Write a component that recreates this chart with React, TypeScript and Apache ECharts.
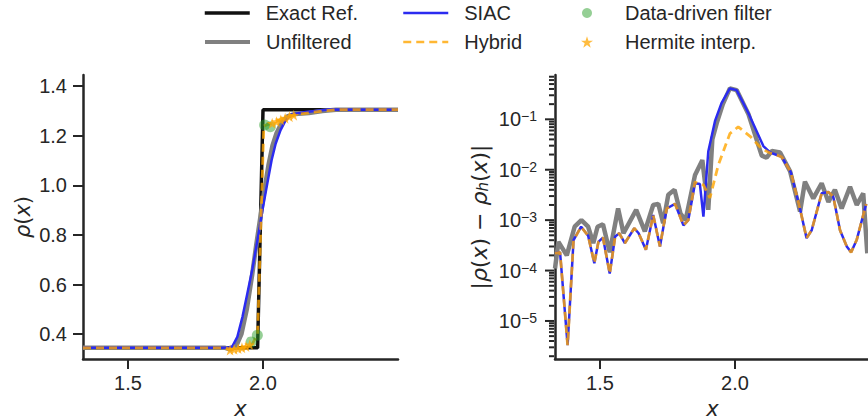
import React, { useEffect, useRef } from 'react';
import * as echarts from 'echarts';

// ---------- left panel: density rho(x) ----------
const exactX = [1.3333, 1.98, 2.0, 2.5];
const exactRho = [0.345, 0.345, 1.305, 1.305];

const unfX = [1.3333, 1.86, 1.88, 1.9, 1.92, 1.94, 1.96, 1.975, 1.99, 2.005, 2.02, 2.035, 2.05, 2.07, 2.09, 2.12, 2.17, 2.22, 2.27, 2.5];
const unfRho = [0.345, 0.345, 0.338, 0.35, 0.4, 0.5, 0.64, 0.76, 0.87, 0.98, 1.08, 1.16, 1.21, 1.255, 1.278, 1.288, 1.292, 1.3, 1.305, 1.305];

const siacX = [1.3333, 1.87, 1.887, 1.905, 1.924, 1.942, 1.961, 1.975, 1.988, 2.0, 2.016, 2.032, 2.047, 2.065, 2.084, 2.108, 2.158, 2.244, 2.5];
const siacRho = [0.345, 0.345, 0.352, 0.389, 0.47, 0.564, 0.665, 0.752, 0.833, 0.913, 1.008, 1.102, 1.169, 1.223, 1.263, 1.287, 1.296, 1.306, 1.305];

const hybX = [1.3333, 1.86, 1.88, 1.9, 1.93, 1.96, 1.98, 2.003, 2.03, 2.06, 2.09, 2.12, 2.17, 2.22, 2.27, 2.5];
const hybRho = [0.345, 0.345, 0.339, 0.341, 0.347, 0.36, 0.4, 1.24, 1.25, 1.263, 1.277, 1.285, 1.292, 1.3, 1.305, 1.305];

const filterX = [1.956, 1.979, 2.006, 2.027];
const filterRho = [0.369, 0.396, 1.243, 1.236];

const hermX = [1.878, 1.893, 1.908, 1.922, 1.937, 1.951, 2.034, 2.05, 2.066, 2.082, 2.098, 2.114];
const hermRho = [0.336, 0.339, 0.342, 0.345, 0.35, 0.357, 1.25, 1.257, 1.264, 1.271, 1.277, 1.283];

// ---------- right panel: pointwise error ----------
const errUnfX = [1.3333, 1.346, 1.377, 1.406, 1.431, 1.456, 1.475, 1.491, 1.511, 1.536, 1.567, 1.587, 1.634, 1.666, 1.697, 1.716, 1.734, 1.753, 1.776, 1.798, 1.817, 1.852, 1.879, 1.901, 1.916, 1.932, 1.955, 1.981, 2.006, 2.05, 2.099, 2.117, 2.136, 2.167, 2.204, 2.241, 2.259, 2.29, 2.321, 2.346, 2.37, 2.395, 2.426, 2.451, 2.475, 2.49];
const errUnf = [1.1e-4, 3.7e-4, 2.0e-4, 7.4e-4, 1.0e-3, 7.4e-4, 3.5e-4, 7.4e-4, 8.3e-4, 2.3e-4, 1.7e-3, 5.5e-4, 1.6e-3, 6.0e-4, 2.0e-3, 2.1e-3, 8.7e-4, 3.2e-3, 4.0e-3, 1.35e-3, 1.0e-3, 7.9e-3, 1.55e-2, 1.6e-3, 4.0e-2, 8.3e-2, 0.2, 0.41, 0.38, 0.126, 1.9e-2, 1.74e-2, 2.35e-2, 2.2e-2, 9.3e-3, 1.48e-3, 5.8e-3, 2.7e-3, 5.4e-3, 2.3e-3, 4.0e-3, 1.7e-3, 4.6e-3, 2.0e-3, 3.4e-3, 2.2e-4];

const errSiacX = [1.3333, 1.352, 1.38, 1.402, 1.43, 1.456, 1.479, 1.494, 1.511, 1.536, 1.556, 1.571, 1.592, 1.627, 1.643, 1.67, 1.697, 1.722, 1.747, 1.778, 1.809, 1.827, 1.852, 1.87, 1.883, 1.901, 1.926, 1.95, 1.981, 2.006, 2.049, 2.105, 2.13, 2.173, 2.207, 2.241, 2.265, 2.284, 2.321, 2.346, 2.364, 2.389, 2.414, 2.43, 2.451, 2.486];
const errSiac = [2.2e-4, 2.3e-4, 3.3e-6, 4.0e-4, 7.4e-4, 4.9e-4, 1.4e-4, 3.7e-4, 4.5e-4, 8.7e-5, 4.7e-4, 5.5e-4, 3.5e-4, 6.9e-4, 5.5e-4, 2.6e-4, 1.26e-3, 3.0e-4, 1.7e-3, 2.1e-3, 7.9e-4, 1.0e-3, 5.4e-3, 5.2e-3, 1.17e-3, 2.3e-2, 9.3e-2, 0.21, 0.41, 0.38, 0.135, 2.95e-2, 2.2e-2, 1.8e-2, 8.9e-3, 1.66e-3, 4.4e-4, 6.3e-4, 3.4e-3, 3.6e-3, 2.9e-3, 6.3e-4, 3.0e-4, 2.3e-4, 4.1e-4, 2.1e-3];

const errHybX = [1.3333, 1.352, 1.38, 1.402, 1.43, 1.456, 1.479, 1.494, 1.511, 1.536, 1.556, 1.571, 1.592, 1.627, 1.643, 1.67, 1.697, 1.722, 1.747, 1.778, 1.809, 1.827, 1.852, 1.87, 1.883, 1.907, 1.938, 1.981, 2.012, 2.056, 2.099, 2.13, 2.173, 2.207, 2.241, 2.265, 2.284, 2.321, 2.346, 2.364, 2.389, 2.414, 2.43, 2.451, 2.486];
const errHyb = [2.2e-4, 2.3e-4, 3.3e-6, 4.0e-4, 7.4e-4, 4.9e-4, 1.4e-4, 3.7e-4, 4.5e-4, 8.7e-5, 4.7e-4, 5.5e-4, 3.5e-4, 6.9e-4, 5.5e-4, 2.6e-4, 1.26e-3, 3.0e-4, 1.7e-3, 2.1e-3, 7.9e-4, 1.0e-3, 5.7e-3, 5.2e-3, 5.0e-3, 2.75e-3, 1.23e-2, 5.2e-2, 7.1e-2, 4.6e-2, 2.6e-2, 2.15e-2, 1.8e-2, 8.9e-3, 1.66e-3, 4.4e-4, 6.3e-4, 3.4e-3, 3.6e-3, 2.9e-3, 6.3e-4, 3.0e-4, 2.3e-4, 4.1e-4, 2.1e-3];

// ---------- axes ----------
const xMin = 1.3333;
const xMax = 2.5;
const xTicks = [1.5, 2.0];
const rhoMin = 0.3;
const rhoMax = 1.445;
const rhoTicks = [0.4, 0.6, 0.8, 1.0, 1.2, 1.4];
const errMin = 1.76e-6;
const errMax = 0.757;
const errDecades = [1e-5, 1e-4, 1e-3, 1e-2, 1e-1];

const FONT = "'Liberation Sans', Arial, sans-serif";
const MATH = "'DejaVu Sans', sans-serif";
const INK = '#262626';
const STAR = 'path://M50,0 L61.8,35.1 L98.9,35.1 L68.9,56.7 L80.3,91.9 L50,70.2 L19.7,91.9 L31.1,56.7 L1.1,35.1 L38.2,35.1 Z';

const zip = (xs: number[], ys: number[]) => xs.map((x, i) => [x, ys[i]]);

function buildTickData() {
  const out: number[][] = [];
  errDecades.forEach((d) => out.push([xMin, d, 10]));
  for (let k = -6; k <= -1; k++) {
    for (let m = 2; m <= 9; m++) {
      const v = m * Math.pow(10, k);
      if (v >= errMin && v <= errMax) out.push([xMin, v, 6]);
    }
  }
  return out;
}

export default function App() {
  const ref = useRef<HTMLDivElement>(null);
  useEffect(() => {
    if (!ref.current) return;
    const chart = echarts.init(ref.current, undefined, { renderer: 'svg' });
    const axisLine = { show: true, onZero: false, lineStyle: { color: INK, width: 2.5 } };
    const tick = { show: true, length: 10, lineStyle: { color: INK, width: 2 } };
    const lbl = { color: INK, fontSize: 20, fontFamily: FONT };
    const mathRich = (fs: number) => ({
      n: { fontFamily: MATH, fontSize: fs, color: INK },
      i: { fontFamily: MATH, fontSize: fs, fontStyle: 'italic', color: INK },
      s: { fontFamily: MATH, fontSize: Math.round(fs * 0.7), fontStyle: 'italic', color: INK, verticalAlign: 'bottom', lineHeight: Math.round(fs * 0.7) },
    });
    const xAxisBase = (gi: number) => ({
      gridIndex: gi,
      type: 'value',
      min: xMin,
      max: xMax,
      axisLine,
      axisTick: { ...tick, customValues: xTicks },
      axisLabel: { ...lbl, margin: 14, customValues: xTicks, formatter: (v: number) => v.toFixed(1) },
      splitLine: { show: false },
      name: 'x',
      nameLocation: 'middle',
      nameGap: 39,
      nameTextStyle: { fontFamily: MATH, fontStyle: 'italic', fontSize: 21, color: INK },
    });
    const lineSeries = (name: string, xi: number, data: number[][], ls: any, z: number) => ({
      name,
      type: 'line',
      xAxisIndex: xi,
      yAxisIndex: xi,
      data,
      symbol: 'none',
      showSymbol: false,
      lineStyle: ls,
      itemStyle: { color: ls.color, opacity: ls.opacity ?? 1 },
      z,
    });
    const exactLS = { color: '#111111', width: 3.5 };
    const unfLS = { color: '#808080', width: 4.5 };
    const siacLS = { color: '#2b2bf0', width: 2.5 };
    const hybLS = { color: '#ffa500', width: 2.8, type: [8, 5], opacity: 0.8 };
    const legendText = (pad: number) => ({ color: INK, fontSize: 20, fontFamily: FONT, padding: [0, 0, 0, pad] });
    const lineLegend = (name: string, left: number, top: number, ls: any) => ({
      data: [name],
      left,
      top,
      padding: 0,
      itemWidth: 45,
      itemHeight: 2,
      itemStyle: { opacity: 0 },
      lineStyle: { width: ls.width, type: ls.type ?? 'solid', color: ls.color, opacity: ls.opacity ?? 1 },
      textStyle: legendText(11),
    });
    const dotLegend = (name: string, left: number, top: number, size: number, pad: number) => ({
      data: [name],
      left,
      top,
      padding: 0,
      itemWidth: size,
      itemHeight: size,
      textStyle: legendText(pad),
    });

    chart.setOption({
      animation: false,
      backgroundColor: '#ffffff',
      grid: [
        { left: 83, top: 75, width: 315, height: 284, outerBoundsMode: 'none', containLabel: false },
        { left: 555, top: 75, width: 315, height: 284, outerBoundsMode: 'none', containLabel: false },
      ],
      legend: [
        lineLegend('Exact Ref.', 203, 3, exactLS),
        lineLegend('Unfiltered', 203, 32, { ...unfLS, width: 4 }),
        lineLegend('SIAC', 402, 3, siacLS),
        lineLegend('Hybrid', 402, 32, { ...hybLS, width: 2.5 }),
        dotLegend('Data-driven filter', 582, 3, 10, 28),
        dotLegend('Hermite interp.', 581, 32, 12, 27),
      ],
      xAxis: [xAxisBase(0), xAxisBase(1)],
      yAxis: [
        {
          gridIndex: 0,
          type: 'value',
          min: rhoMin,
          max: rhoMax,
          axisLine,
          axisTick: { ...tick, customValues: rhoTicks },
          axisLabel: { ...lbl, margin: 16, customValues: rhoTicks, formatter: (v: number) => v.toFixed(1) },
          splitLine: { show: false },
          name: '{i|ρ}{n|(}{i|x}{n|)}',
          nameLocation: 'middle',
          nameGap: 50,
          nameTextStyle: { rich: mathRich(21), fontFamily: MATH, fontSize: 21, color: INK },
        },
        {
          gridIndex: 1,
          type: 'log',
          logBase: 10,
          min: errMin,
          max: errMax,
          axisLine,
          axisTick: { show: false },
          minorTick: { show: false },
          splitLine: { show: false },
          axisLabel: {
            ...lbl,
            margin: 18,
            showMinLabel: false,
            showMaxLabel: false,
            formatter: (v: number) => {
              const l = Math.log10(v);
              const e = Math.round(l);
              if (Math.abs(l - e) > 1e-6) return '';
              return '{b|10}{s|−' + -e + '}';
            },
            rich: {
              b: { fontSize: 20, fontFamily: FONT, color: INK, lineHeight: 20, padding: [8, 0, 0, 0], verticalAlign: 'bottom' },
              s: { fontSize: 14, fontFamily: FONT, color: INK, lineHeight: 14, verticalAlign: 'top' },
            },
          },
          name: '{n||}{i|ρ}{n|(}{i|x}{n|) − }{i|ρ}{s|h}{n|(}{i|x}{n|)|}',
          nameLocation: 'middle',
          nameGap: 65,
          nameTextStyle: { rich: mathRich(22), fontFamily: MATH, fontSize: 22, color: INK },
        },
      ],
      series: [
        lineSeries('Exact Ref.', 0, zip(exactX, exactRho), exactLS, 2),
        lineSeries('Unfiltered', 0, zip(unfX, unfRho), unfLS, 3),
        lineSeries('SIAC', 0, zip(siacX, siacRho), siacLS, 4),
        lineSeries('Hybrid', 0, zip(hybX, hybRho), hybLS, 5),
        {
          name: 'Data-driven filter',
          type: 'scatter',
          xAxisIndex: 0,
          yAxisIndex: 0,
          data: zip(filterX, filterRho),
          symbol: 'circle',
          symbolSize: 11,
          itemStyle: { color: '#2ca02c', opacity: 0.5 },
          z: 6,
        },
        {
          name: 'Hermite interp.',
          type: 'scatter',
          xAxisIndex: 0,
          yAxisIndex: 0,
          data: zip(hermX, hermRho),
          symbol: STAR,
          symbolSize: 11,
          itemStyle: { color: '#ffa500', opacity: 0.75 },
          z: 7,
        },
        lineSeries('Unfiltered', 1, zip(errUnfX, errUnf), unfLS, 3),
        lineSeries('SIAC', 1, zip(errSiacX, errSiac), siacLS, 4),
        lineSeries('Hybrid', 1, zip(errHybX, errHyb), hybLS, 5),
        {
          name: 'logTicks',
          type: 'custom',
          xAxisIndex: 1,
          yAxisIndex: 1,
          silent: true,
          clip: false,
          data: buildTickData(),
          renderItem: (params: any, api: any) => {
            const p = api.coord([api.value(0), api.value(1)]);
            const len = api.value(2);
            return {
              type: 'line',
              shape: { x1: p[0] - len, y1: p[1], x2: p[0] - 1, y2: p[1] },
              style: { stroke: INK, lineWidth: 2 },
            };
          },
          z: 10,
        },
      ],
    });
    return () => chart.dispose();
  }, []);
  return <div ref={ref} style={{ position: 'absolute', left: 0, top: 0, width: 868, height: 420 }} />;
}
